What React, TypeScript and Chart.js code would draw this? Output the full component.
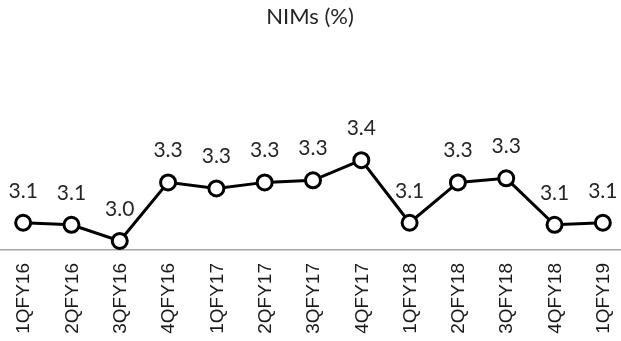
import React, { useEffect, useRef } from "react";
import { Chart, registerables } from "chart.js";

Chart.register(...registerables);

const TITLE = "NIMs (%)";
const CATEGORIES = [
  "1QFY16", "2QFY16", "3QFY16", "4QFY16",
  "1QFY17", "2QFY17", "3QFY17", "4QFY17",
  "1QFY18", "2QFY18", "3QFY18", "4QFY18",
  "1QFY19",
];
const NIM_VALUES = [3.09, 3.08, 3.0, 3.29, 3.26, 3.29, 3.3, 3.4, 3.09, 3.29, 3.31, 3.08, 3.09];
const Y_MIN = 2.955;
const Y_MAX = 3.5;

const labelFont = "Lato, 'Open Sans', sans-serif";

const valueLabelPlugin = {
  id: "valueLabels",
  afterDatasetsDraw(chart: any) {
    const ctx = chart.ctx;
    const meta = chart.getDatasetMeta(0);
    ctx.save();
    ctx.font = `21px ${labelFont}`;
    ctx.fillStyle = "#262626";
    ctx.textAlign = "center";
    ctx.textBaseline = "middle";
    meta.data.forEach((pt: any, i: number) => {
      ctx.fillText(NIM_VALUES[i].toFixed(1), pt.x, pt.y - 32);
    });
    ctx.restore();
  },
};

const titlePlugin = {
  id: "customTitle",
  afterDraw(chart: any) {
    const ctx = chart.ctx;
    ctx.save();
    ctx.font = `22px ${labelFont}`;
    ctx.fillStyle = "#262626";
    ctx.textAlign = "center";
    ctx.textBaseline = "middle";
    ctx.fillText(TITLE, chart.width / 2 - 3, 17);
    ctx.restore();
  },
};

export default function App() {
  const ref = useRef<HTMLCanvasElement | null>(null);

  useEffect(() => {
    if (!ref.current) return;
    const chart = new Chart(ref.current, {
      type: "line",
      data: {
        labels: CATEGORIES,
        datasets: [
          {
            data: NIM_VALUES,
            borderColor: "#000000",
            borderWidth: 3,
            pointRadius: 7.5,
            pointBorderWidth: 3,
            pointBackgroundColor: "#ffffff",
            pointBorderColor: "#000000",
            tension: 0,
            clip: false as any,
          },
        ],
      },
      options: {
        responsive: false,
        animation: false,
        layout: { autoPadding: false, padding: { top: 140, left: 0, right: 0, bottom: 0 } },
        plugins: {
          legend: { display: false },
          title: { display: false },
          tooltip: { enabled: false },
        },
        scales: {
          x: {
            type: "category",
            offset: true,
            grid: { display: false, drawTicks: false },
            border: { display: true, color: "#a6a6a6", width: 1.5 },
            ticks: {
              minRotation: 90,
              maxRotation: 90,
              autoSkip: false,
              padding: 13,
              labelOffset: 1,
              color: "#1a1a1a",
              font: { family: "'Liberation Sans', Arial, sans-serif", size: 19 },
            },
            afterFit: (scale: any) => {
              scale.height = 91;
              scale.paddingLeft = 0;
              scale.paddingRight = 0;
            },
          },
          y: {
            display: false,
            min: Y_MIN,
            max: Y_MAX,
          },
        },
      },
      plugins: [valueLabelPlugin, titlePlugin],
    });
    return () => chart.destroy();
  }, []);

  return (
    <div style={{ position: "fixed", left: -1, top: 0, width: 628, height: 341 }}>
      <canvas ref={ref} width={628} height={341} style={{ display: "block" }} />
    </div>
  );
}
